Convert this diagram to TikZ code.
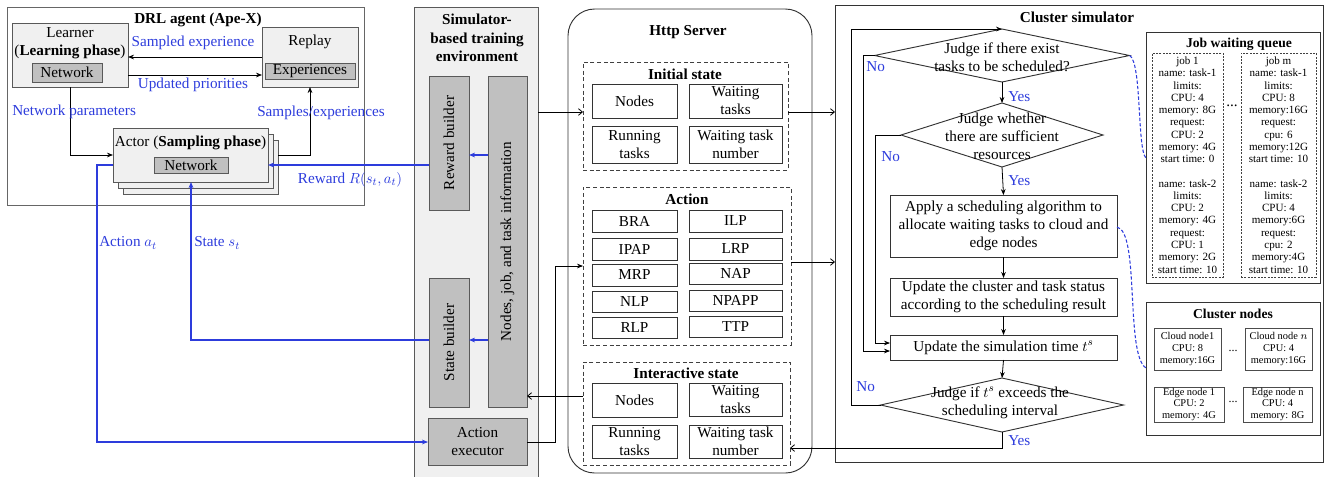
\documentclass[tikz,border=0pt]{standalone}
\usepackage{fontspec}
\setmainfont{Liberation Serif}
\usepackage{graphicx}
\usetikzlibrary{shapes.geometric,arrows.meta}
\definecolor{myblue}{RGB}{45,60,220}
\definecolor{lightfill}{RGB}{240,240,240}
\definecolor{darkfill}{RGB}{192,192,192}
\newcommand\pxbox[7]{\node[#6, minimum width={(#4-#2)*0.75pt}, minimum height={(#5-#3)*0.75pt}] (#1) at ({(#2+#4)/2},{(#3+#5)/2}) {#7};}
\tikzset{
 bx/.style={draw=black!80, line width=0.7pt, outer sep=0pt, inner sep=0.5pt, align=center, font=\fontsize{11.4}{13.5}\selectfont},
 lightbx/.style={bx, draw=black!65, fill=lightfill},
 darkbx/.style={bx, draw=black!65, fill=darkfill},
 cell/.style={bx, fill=white, inner sep=0pt},
 dbox/.style={draw=black!75, dash pattern=on 3pt off 2pt, line width=0.6pt, outer sep=0pt},
 jdash/.style={draw=black!75, dash pattern=on 1.5pt off 1pt, line width=0.5pt, outer sep=0pt, inner sep=0pt, align=center, font=\fontsize{8.3}{9.2}\selectfont},
 ndbox/.style={draw=black!70, line width=0.6pt, outer sep=0pt, inner sep=0pt, align=center, font=\fontsize{7.8}{8.75}\selectfont},
 ttl/.style={font=\fontsize{11.4}{13.9}\selectfont\bfseries, align=center, inner sep=0pt},
 sttl/.style={font=\fontsize{10.2}{12}\selectfont\bfseries, align=center, inner sep=0pt},
 txt/.style={font=\fontsize{11.4}{13.5}\selectfont, align=center, inner sep=0pt},
 blbl/.style={txt, text=myblue},
 arr/.style={-{Stealth[length=4.5pt,width=3.5pt]}, line width=0.6pt},
 barb/.style={-{Straight Barb[length=3pt,width=5pt]}, line width=0.6pt},
 barr/.style={-{Stealth[length=4.5pt,width=3.5pt]}, draw=myblue, line width=0.8pt},
 bdash/.style={draw=myblue, dash pattern=on 2.5pt off 1.5pt, line width=0.8pt},
 dia/.style={diamond, draw=black!80, line width=0.7pt, inner sep=0pt, outer sep=0pt},
}
\begin{document}
\begin{tikzpicture}[x=0.75pt,y=-0.75pt]
\useasboundingbox (0,0) rectangle (1326,476);
% ---------------- DRL agent
\pxbox{drl}{7}{7}{364}{205}{bx, draw=black!60}{}
\node[ttl] (drlt) at (198,20) {DRL agent (Ape-X)};
\pxbox{learner}{12}{23}{128}{87}{lightbx}{}
\node[txt] (learnert1) at (70,33) {Learner};
\node[txt] (learnert2) at (70,52) {(\textbf{Learning phase})};
\pxbox{lnet}{32}{63}{102}{82}{darkbx}{Network}
\pxbox{replay}{262}{27}{358}{87}{lightbx}{}
\node[txt] (replayt) at (310,42) {Replay};
\pxbox{exp}{265}{63}{355}{79}{darkbx}{Experiences}
\pxbox{actorb2}{123}{140}{278}{194}{lightbx}{}
\pxbox{actorb1}{118}{134}{273}{188}{lightbx}{}
\pxbox{actor}{113}{128}{268}{182}{lightbx}{}
\node[txt] (actort) at (190.5,143) {Actor (\textbf{Sampling phase})};
\pxbox{anet}{154}{157}{228}{173}{darkbx}{Network}
% ---------------- Simulator-based training environment
\pxbox{simenv}{414}{7}{538}{480}{lightbx}{}
\node[ttl] (simt) at (477,38) {Simulator-\\based training\\environment};
\pxbox{rewardb}{429}{76}{469}{210}{darkbx}{\rotatebox{90}{Reward builder}}
\pxbox{info}{488}{76}{527}{407}{darkbx}{\rotatebox{90}{Nodes, job, and task information}}
\pxbox{stateb}{429}{278}{469}{407}{darkbx}{\rotatebox{90}{State builder}}
\pxbox{actexec}{428}{418}{527}{465}{darkbx}{Action\\executor}
% ---------------- Http server
\pxbox{http}{568}{9}{812}{473}{bx, rounded corners=20pt}{}
\node[ttl] (httpt) at (688,32) {Http Server};
\pxbox{init}{583}{62}{788}{170}{dbox}{}
\node[ttl] (initt) at (685,74) {Initial state};
\pxbox{i1}{592}{84}{677}{118}{cell}{Nodes}
\pxbox{i2}{689}{84}{782}{118}{cell}{Waiting\\tasks}
\pxbox{i3}{592}{126}{677}{163}{cell}{Running\\tasks}
\pxbox{i4}{689}{126}{782}{163}{cell}{Waiting task\\number}
\pxbox{act}{583}{187}{791}{345}{dbox}{}
\node[ttl] (actt) at (687,199) {Action};
\pxbox{a1}{592}{210}{677}{232}{cell}{BRA}
\pxbox{a2}{689}{210}{782}{232}{cell}{ILP}
\pxbox{a3}{592}{238}{677}{260}{cell}{IPAP}
\pxbox{a4}{689}{238}{782}{260}{cell}{LRP}
\pxbox{a5}{592}{264}{677}{286}{cell}{MRP}
\pxbox{a6}{689}{263}{782}{284}{cell}{NAP}
\pxbox{a7}{592}{291}{677}{312}{cell}{NLP}
\pxbox{a8}{689}{290}{782}{311}{cell}{NPAPP}
\pxbox{a9}{592}{317}{677}{338}{cell}{RLP}
\pxbox{a10}{689}{316}{782}{337}{cell}{TTP}
\pxbox{inter}{583}{362}{790}{465}{dbox}{}
\node[ttl] (intert) at (686,373) {Interactive state};
\pxbox{s1}{592}{383}{677}{417}{cell}{Nodes}
\pxbox{s2}{689}{383}{782}{416}{cell}{Waiting\\tasks}
\pxbox{s3}{592}{425}{677}{458}{cell}{Running\\tasks}
\pxbox{s4}{689}{425}{782}{458}{cell}{Waiting task\\number}
% ---------------- Cluster simulator
\pxbox{clsim}{835}{5}{1323}{462}{bx}{}
\node[ttl] (clsimt) at (1077,17) {Cluster simulator};
\node[dia, minimum width=255*0.75pt, minimum height=53*0.75pt] (d1) at (1002,55.5) {};
\node[txt] (d1t) at (1002,57.5) {Judge if there exist\\tasks to be scheduled?};
\node[dia, minimum width=202*0.75pt, minimum height=64*0.75pt] (d2) at (1002,135) {};
\node[txt] (d2t) at (1002,136) {Judge whether\\there are sufficient\\resources};
\pxbox{apply}{890}{195}{1117}{257}{cell}{Apply a scheduling algorithm to\\allocate waiting tasks to cloud and\\edge nodes}
\pxbox{upd1}{890}{278}{1117}{316}{cell}{Update the cluster and task status\\according to the scheduling result}
\pxbox{upd2}{890}{335}{1117}{360}{cell}{Update the simulation time $t^s$}
\node[dia, minimum width=243*0.75pt, minimum height=54*0.75pt] (d3) at (1002,405) {};
\node[txt] (d3t) at (1000,402.5) {Judge if $t^s$ exceeds the\\scheduling interval};
% job waiting queue
\pxbox{jobq}{1146}{32}{1320}{283}{bx}{}
\node[sttl] (jobqt) at (1239,44) {Job waiting queue};
\pxbox{job1}{1152}{53}{1223}{277}{jdash}{job 1\\name: task-1\\limits:\\CPU: 4\\memory: 8G\\request:\\CPU: 2\\memory: 4G\\start time: 0\\\mbox{}\\name: task-2\\limits:\\CPU: 2\\memory: 4G\\request:\\CPU: 1\\memory: 2G\\start time: 10}
\pxbox{jobm}{1241}{53}{1316}{277}{jdash}{job m\\name: task-1\\limits:\\CPU: 8\\memory:16G\\request:\\cpu: 6\\memory:12G\\start time: 10\\\mbox{}\\name: task-2\\limits:\\CPU: 4\\memory:6G\\request:\\cpu: 2\\memory:4G\\start time: 10}
\node[txt] (jdots) at (1232,106) {...};
% cluster nodes
\pxbox{nodes}{1146}{302}{1320}{435}{bx}{}
\node[sttl] (nodest) at (1233,314) {Cluster nodes};
\pxbox{c1}{1154}{328}{1221}{370}{ndbox}{Cloud node1\\CPU: 8\\memory:16G}
\pxbox{cn}{1245}{328}{1312}{370}{ndbox}{Cloud node $n$\\CPU: 4\\memory:16G}
\pxbox{e1}{1154}{387}{1224}{422}{ndbox}{Edge node 1\\CPU: 2\\memory: 4G}
\pxbox{en}{1243}{387}{1312}{422}{ndbox}{Edge node n\\CPU: 4\\memory: 8G}
\node[txt, font=\fontsize{9}{10}\selectfont] (cdots) at (1233,351) {...};
\node[txt, font=\fontsize{9}{10}\selectfont] (edots) at (1233,402) {...};
% ---------------- connectors: DRL agent
\draw[arr] (replay.west) -- (replay.west -| learner.east);
\node[blbl] (lse) at (193,43) {Sampled experience};
\draw[arr] (learner.east |- 0,75) -- (replay.west |- 0,75);
\node[blbl] (lup) at (193,85) {Updated priorities};
\draw[arr] (learner.south) |- (actor.west);
\node[blbl, anchor=west] (lnp) at (12,112) {Network parameters};
\draw[arr] (actorb2.east |- actor.east) -| (replay.south -| 310,0);
\node[blbl] (lsx) at (321,113) {Samples/experiences};
\draw[barr] (rewardb.west |- 0,165) -- (actor.east |- 0,165);
\node[blbl] (lrw) at (350,180) {Reward $R(s_t,a_t)$};
\draw[barr] (info.west |- 0,155) -- (rewardb.east |- 0,155);
\draw[barr] (info.west |- 0,340) -- (stateb.east |- 0,340);
\draw[barr] (stateb.west |- 0,340) -| (actor.south -| 191,0);
\node[blbl, anchor=west] (lst) at (194,243) {State $s_t$};
\draw[barr] (actor.west |- 0,165) -- (97,165) |- (actexec.west |- 0,442);
\node[blbl, anchor=west] (lat) at (99,243) {Action $a_t$};
% ---------------- connectors: environment / server
\draw[arr] (actexec.east |- 0,442) -- (555,442) |- (act.west |- 0,266);
\draw[barb] (simenv.east |- 0,112) -- (init.west |- 0,112);
\draw[barb] (inter.west |- 0,396) -- (info.east |- 0,396);
\draw[barb] (init.east |- 0,112) -- (clsim.west |- 0,112);
\draw[barb] (act.east |- 0,262) -- (clsim.west |- 0,262);
\draw[barb] (d3.south) |- (inter.east |- 0,448);
% ---------------- flowchart
\draw[arr] (d1.south) -- (d2.north);
\draw[arr] (d2.south) -- (apply.north);
\draw[arr] (apply.south) -- (upd1.north);
\draw[arr] (upd1.south) -- (upd2.north);
\draw[arr] (upd2.south) -- (d3.north);
\draw[arr] (d1.west) -- (863,55.5) |- (upd2.west |- 0,351);
\draw[arr] (d2.west) -- (875,135) |- (upd2.west |- 0,343);
\draw[arr] (d3.west) -- (851,405) |- (d1.north);
\node[blbl, anchor=west] (no1) at (866,67) {No};
\node[blbl, anchor=west] (no2) at (881,157) {No};
\node[blbl, anchor=west] (no3) at (856,387) {No};
\node[blbl, anchor=west] (yes1) at (1008,97) {Yes};
\node[blbl, anchor=west] (yes2) at (1008,181) {Yes};
\node[blbl, anchor=west] (yes3) at (1008,441) {Yes};
\draw[bdash] (d1.east) .. controls (1142,62) and (1137,150) .. (jobq.west |- 0,158);
\draw[bdash] (apply.east |- 0,227) .. controls (1140,232) and (1125,355) .. (nodes.west |- 0,368);
\end{tikzpicture}
\end{document}
